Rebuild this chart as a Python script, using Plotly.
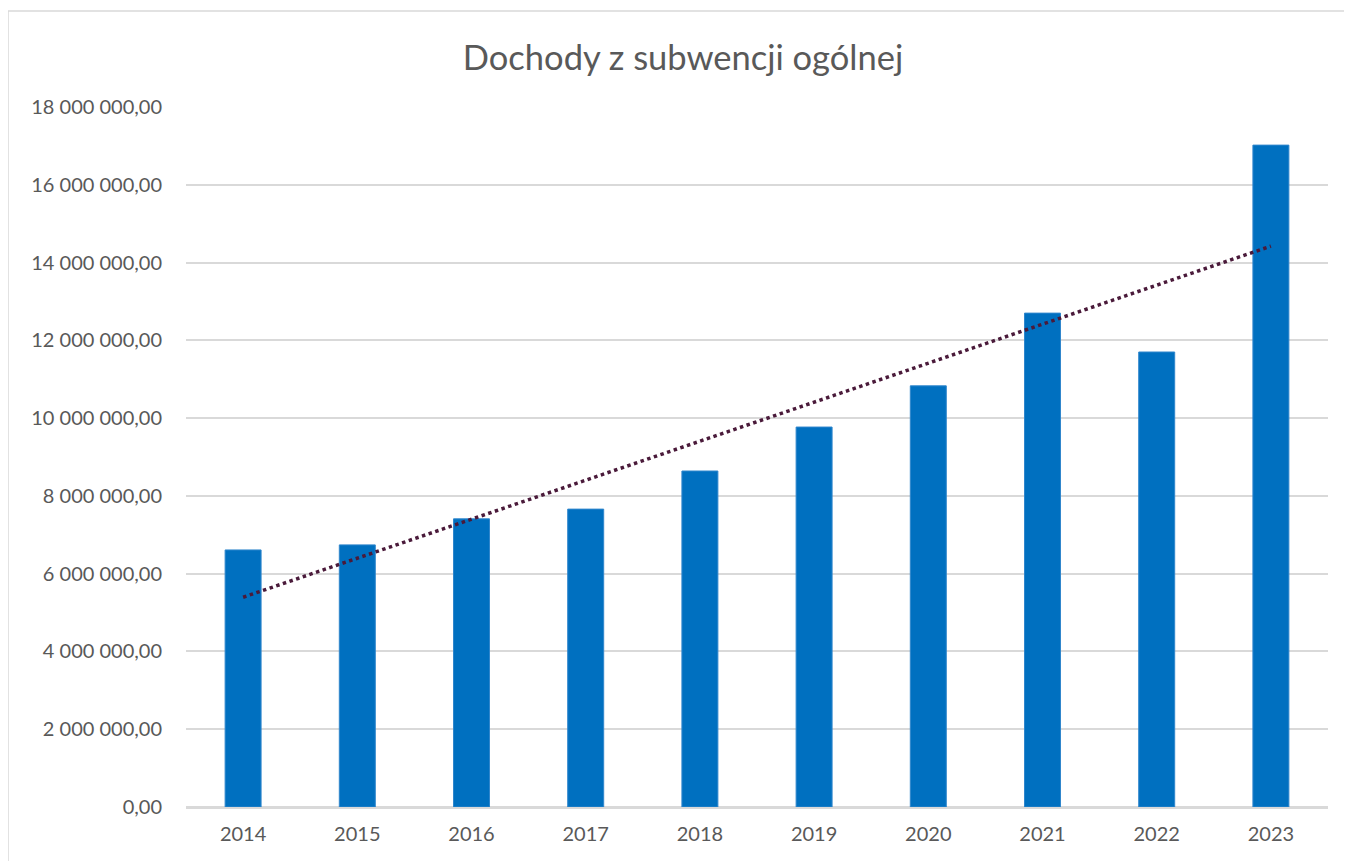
import numpy as np
import plotly.graph_objects as go

years = ["2014", "2015", "2016", "2017", "2018", "2019", "2020", "2021", "2022", "2023"]
values = [6610000, 6740000, 7410000, 7660000, 8640000, 9770000, 10830000, 12700000, 11700000, 17020000]
y_ticks = [0, 2000000, 4000000, 6000000, 8000000, 10000000, 12000000, 14000000, 16000000, 18000000]

# linear trendline (least squares), as in the spreadsheet
idx = np.arange(len(values))
slope, intercept = np.polyfit(idx, values, 1)
trend = slope * idx + intercept

fig = go.Figure()
fig.add_trace(go.Bar(
    x=years, y=values,
    marker=dict(color="#0070C0", line=dict(color="#2F86CC", width=1)),
    showlegend=False, hoverinfo="x+y",
))
fig.add_trace(go.Scatter(
    x=years, y=trend, mode="lines",
    line=dict(color="#4A1A3A", width=3.5, dash="dot"),
    showlegend=False,
))

font_family = "Lato, 'Open Sans', sans-serif"
W, H = 1352, 861
L, R, T, B = 178, 32, 99, 62
plot_w = W - L - R
plot_h = H - T - B
fig.update_layout(
    width=W, height=H, autosize=False,
    margin=dict(l=L, r=R, t=T, b=B),
    paper_bgcolor="white", plot_bgcolor="white",
    separators=", ",
    bargap=0.685,
    title=dict(text="Dochody z subwencji ogólnej", x=(683 - 8) / W, xanchor="center",
               y=1 - 50 / H, yanchor="middle",
               font=dict(family=font_family, size=34.5, color="#595959")),
    font=dict(family=font_family, size=20, color="#595959"),
    xaxis=dict(type="category", showgrid=False, showline=True, linecolor="#D9D9D9",
               linewidth=1.5, ticks="", ticklabelstandoff=8,
               tickfont=dict(size=20, color="#595959")),
    yaxis=dict(range=[0, 18000000], tickvals=y_ticks, tickformat=",.2f",
               showgrid=True, gridcolor="#D9D9D9", gridwidth=1.5,
               zeroline=True, zerolinecolor="#D9D9D9", zerolinewidth=1.5,
               showline=False, ticks="", ticklen=0, ticklabelstandoff=23,
               tickfont=dict(size=20, color="#595959")),
    shapes=[dict(type="rect", xref="paper", yref="paper",
                 x0=(0 - L) / plot_w, x1=1.1, y0=-0.2, y1=(H - B - 3) / plot_h,
                 line=dict(color="#D9D9D9", width=1.5), fillcolor="rgba(0,0,0,0)",
                 layer="below")],
)

fig.write_html("out.html")
